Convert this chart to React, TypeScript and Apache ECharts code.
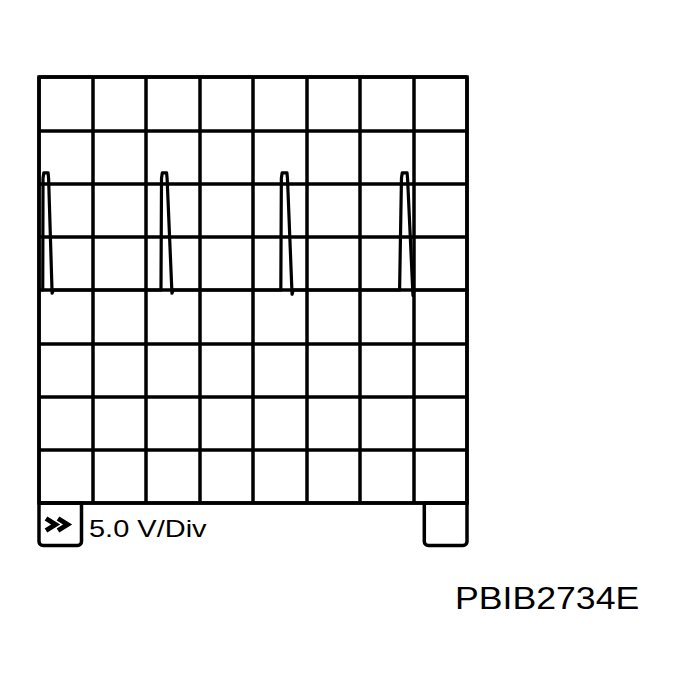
import React, { useEffect, useRef } from "react";
import * as echarts from "echarts";

// Horizontal divisions (time) and vertical scale (volts, 5.0 V/Div)
const xDivisions = [0, 1, 2, 3, 4, 5, 6, 7, 8];
const voltTicks = [-20, -15, -10, -5, 0, 5, 10, 15, 20];
const scaleLabel = "5.0 V/Div";
const figureId = "PBIB2734E";

// Trace points: [division, volts]
const tracePoints: [number, number][] = [
  [0.07, 0], [0.075, 10.5], [0.09, 11], [0.17, 11], [0.18, 10.4], [0.245, -0.3], [0.27, 0],
  [2.28, 0], [2.29, 10.5], [2.305, 11], [2.385, 11], [2.395, 10.4], [2.485, -0.3], [2.51, 0],
  [4.52, 0], [4.53, 10.5], [4.545, 11], [4.635, 11], [4.645, 10.4], [4.73, -0.4], [4.75, 0],
  [6.74, 0], [6.775, 10.5], [6.79, 11], [6.88, 11], [6.89, 10.4], [6.99, -0.5], [7.01, 0],
  [8, 0],
];

export default function App() {
  const ref = useRef<HTMLDivElement>(null);
  useEffect(() => {
    if (!ref.current) return;
    const chart = echarts.init(ref.current, null, { renderer: "svg" });
    const gridLine = { color: "#000", width: 3.5 };
    chart.setOption({
      animation: false,
      backgroundColor: "#fff",
      grid: {
        left: 39,
        top: 77,
        width: 428,
        height: 426,
        show: true,
        borderColor: "#000",
        borderWidth: 3.5,
        backgroundColor: "transparent",
      },
      xAxis: {
        type: "value",
        min: xDivisions[0],
        max: xDivisions[xDivisions.length - 1],
        interval: 1,
        axisLabel: { show: false },
        axisTick: { show: false },
        axisLine: { show: false },
        splitLine: { show: true, lineStyle: gridLine },
      },
      yAxis: {
        type: "value",
        min: voltTicks[0],
        max: voltTicks[voltTicks.length - 1],
        interval: 5,
        axisLabel: { show: false },
        axisTick: { show: false },
        axisLine: { show: false },
        splitLine: { show: true, lineStyle: gridLine },
      },
      series: [
        {
          type: "line",
          data: tracePoints,
          showSymbol: false,
          smooth: false,
          clip: false,
          z: 5,
          lineStyle: { color: "#000", width: 3.2, join: "round", cap: "round" },
        },
      ],
      graphic: [
        {
          type: "rect",
          shape: { x: 39, y: 503, width: 42.5, height: 42.5, r: [0, 0, 4, 4] },
          style: { fill: "none", stroke: "#000", lineWidth: 3.5 },
        },
        {
          type: "rect",
          shape: { x: 424.3, y: 503, width: 42.7, height: 42.5, r: [0, 0, 4, 4] },
          style: { fill: "none", stroke: "#000", lineWidth: 3.5 },
        },
        {
          type: "polyline",
          shape: { points: [[46, 518.5], [55.5, 524.5], [46, 530.5]] },
          style: { fill: "none", stroke: "#000", lineWidth: 5, lineJoin: "miter" },
        },
        {
          type: "polyline",
          shape: { points: [[58, 518.5], [67.5, 524.5], [58, 530.5]] },
          style: { fill: "none", stroke: "#000", lineWidth: 5, lineJoin: "miter" },
        },
        {
          type: "text",
          x: 89,
          y: 529.5,
          scaleX: 1.26,
          style: {
            text: scaleLabel,
            x: 0,
            y: 0,
            fill: "#000",
            fontSize: 23,
            fontFamily: "'Liberation Sans', Arial, sans-serif",
            textAlign: "left",
            textVerticalAlign: "middle",
          },
        },
        {
          type: "text",
          x: 455,
          y: 598,
          scaleX: 1.15,
          style: {
            text: figureId,
            x: 0,
            y: 0,
            fill: "#000",
            fontSize: 31,
            fontFamily: "'Liberation Sans', Arial, sans-serif",
            textAlign: "left",
            textVerticalAlign: "middle",
          },
        },
      ],
    });
    return () => chart.dispose();
  }, []);
  return (
    <div
      ref={ref}
      style={{ position: "absolute", left: 0, top: 0, width: 681, height: 685, background: "#fff" }}
    />
  );
}
